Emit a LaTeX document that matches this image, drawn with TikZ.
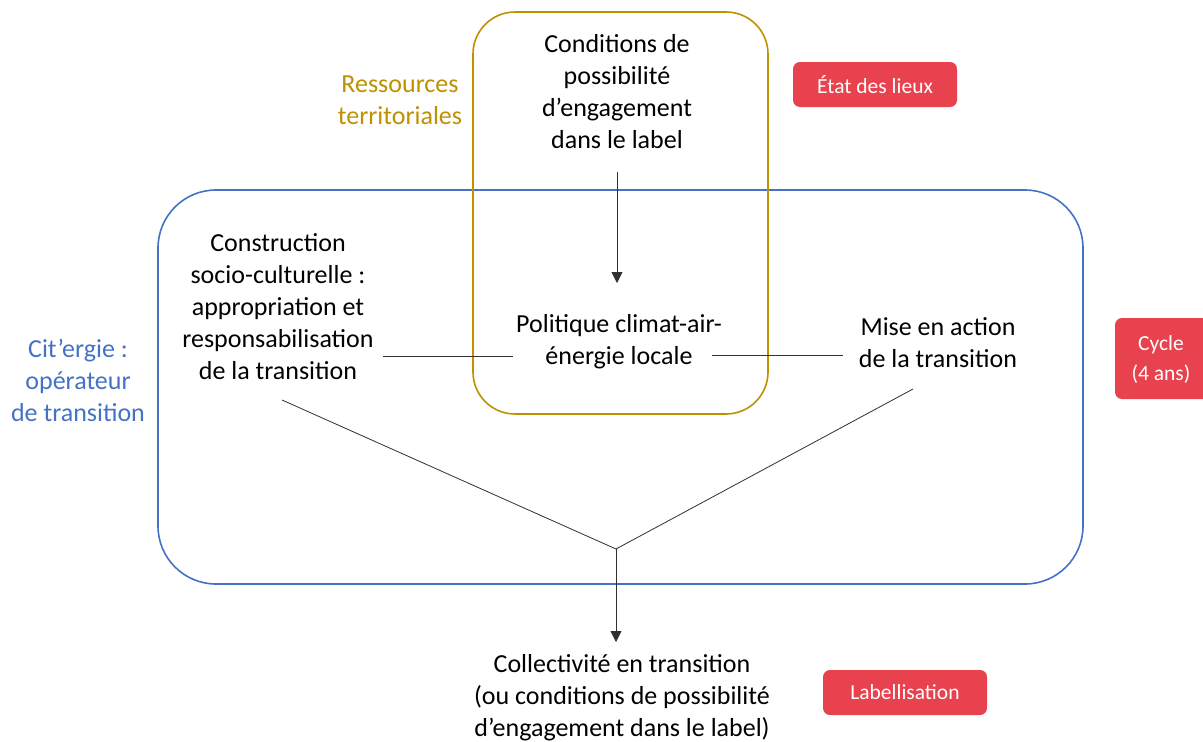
\documentclass[tikz,border=0pt]{standalone}
\usepackage{fontspec}
\setmainfont{Carlito}
\usetikzlibrary{arrows.meta}
\definecolor{goldc}{HTML}{BF9000}
\definecolor{bluec}{HTML}{4472C4}
\definecolor{redc}{HTML}{E8424E}
\definecolor{linec}{HTML}{303030}
\tikzset{
  txt/.style={align=center, inner sep=0pt, font=\fontsize{26}{32}\selectfont},
  tag/.style={fill=redc, rounded corners=7pt, text=white, inner sep=0pt, font=\fontsize{21.5}{30}\selectfont, align=center},
  tagtext/.style={text=white, inner sep=0pt, font=\fontsize{21.5}{30}\selectfont, align=center},
  conn/.style={draw=linec, line width=0.8pt},
  arr/.style={conn, -{Triangle[width=11pt,length=11pt]}},
}
\begin{document}
\begin{tikzpicture}[x=1pt,y=-1pt]
\useasboundingbox (0,0) rectangle (1203,742);
\fill[white] (0,0) rectangle (1203,742);
% frames
\draw[bluec, line width=1.6pt, rounded corners=58pt] (158,190) rectangle (1083,584);
\draw[goldc, line width=1.6pt, rounded corners=42pt] (473,12) rectangle (768,414);
% texts
\node[txt] (cond) at (617,92) {Conditions de\\possibilité\\d’engagement\\dans le label};
\node[txt] (pol) at (619,342) {Politique climat-air-\\énergie locale};
\node[txt] (cons) at (278,307) {Construction\\socio-culturelle :\\appropriation et\\responsabilisation\\de la transition};
\node[txt] (mise) at (938,343) {Mise en action\\de la transition};
\node[txt] (coll) at (622,698) {Collectivité en transition\\(ou conditions de possibilité\\d’engagement dans le label)};
\node[txt, text=bluec] (cit) at (78,380) {Cit’ergie :\\opérateur\\de transition};
\node[txt, text=goldc] (res) at (400,100) {Ressources\\territoriales};
% tags
\node[tag, minimum width=164pt, minimum height=45pt] (etat) at (875,84.5) {État des lieux};
\node[tag, minimum width=100pt, minimum height=81pt] (cycle) at (1165,358.5) {};
\node[tagtext] (cyclet) at (1161,360) {Cycle\\(4 ans)};
\node[tag, minimum width=164pt, minimum height=45pt] (lab) at (905,692.5) {Labellisation};
% connectors
\coordinate (c1) at (617,172);
\coordinate (c2) at (617,283);
\coordinate (l1) at (383,356);
\coordinate (l2) at (513,356);
\coordinate (r1) at (712,355);
\coordinate (r2) at (843,355);
\coordinate (v1) at (282,400);
\coordinate (v2) at (913,389);
\coordinate (j) at (616,549);
\coordinate (a) at (616,642);
\draw[arr] (c1) -- (c2);
\draw[conn] (l1) -- (l2);
\draw[conn] (r1) -- (r2);
\draw[conn] (v1) -- (j) -- (v2);
\draw[arr] (j) -- (a);
\end{tikzpicture}
\end{document}
